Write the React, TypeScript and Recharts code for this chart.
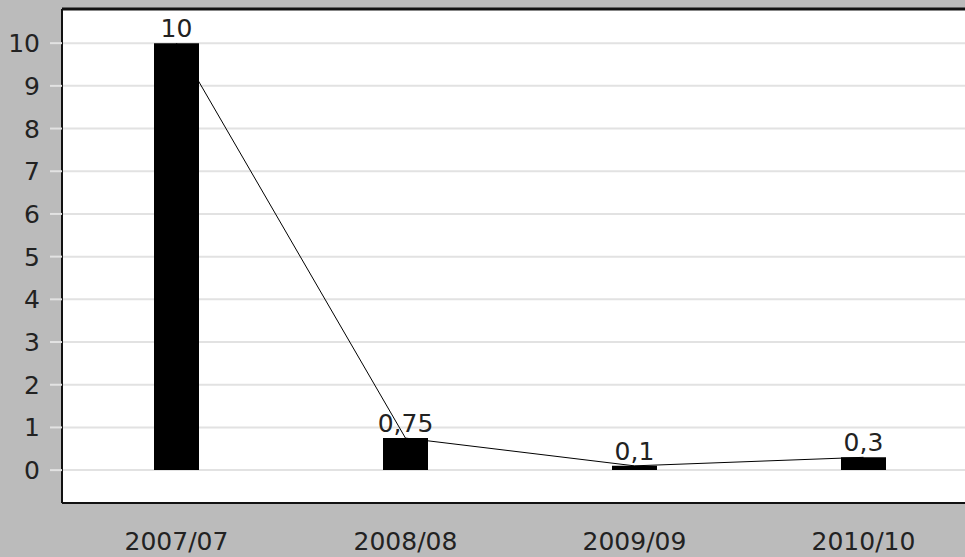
import React from 'react';
import { ComposedChart, Bar, Line, XAxis, YAxis, CartesianGrid, LabelList, ReferenceLine } from 'recharts';

const categories = ['2007/07', '2008/08', '2009/09', '2010/10'];
const values = [10, 0.75, 0.1, 0.3];
const yTicks = [0, 1, 2, 3, 4, 5, 6, 7, 8, 9, 10];
const Y_MIN = -0.77;
const Y_MAX = 10.8;

const data = categories.map((c, i) => ({ cat: c, v: values[i] }));

const FONT = 'DejaVu Sans, Verdana, sans-serif';

const XTick = (props: any) => {
  const { x, y, payload } = props;
  return (
    <text x={x} y={y} dy={47} textAnchor="middle" fontFamily={FONT} fontSize={25} fill="#222">
      {payload.value}
    </text>
  );
};

const YTick = (props: any) => {
  const { x, y, payload } = props;
  return (
    <text x={x} y={y} dy={9} textAnchor="end" fontFamily={FONT} fontSize={25} fill="#222">
      {payload.value}
    </text>
  );
};

const fmt = (v: any) => String(v).replace('.', ',');

export default function App() {
  return (
    <div style={{ position: 'absolute', left: 0, top: 0, width: 965, height: 557, overflow: 'hidden', background: '#bbbbbb' }}>
      <ComposedChart width={990} height={557} data={data} margin={{ top: 9, right: 12, bottom: 0, left: 0 }}>
        <CartesianGrid vertical={false} stroke="#e2e2e2" strokeWidth={2} fill="#ffffff" />
        <XAxis
          dataKey="cat"
          height={54}
          tickLine={false}
          tickSize={0}
          tickMargin={0}
          axisLine={{ stroke: '#111', strokeWidth: 2 }}
          tick={<XTick />}
          interval={0}
        />
        <YAxis
          width={62}
          domain={[Y_MIN, Y_MAX]}
          ticks={yTicks}
          allowDataOverflow
          tickSize={12}
          tickMargin={10}
          tickLine={{ stroke: '#e2e2e2', strokeWidth: 2 }}
          axisLine={{ stroke: '#111', strokeWidth: 2 }}
          tick={<YTick />}
        />
        <ReferenceLine y={Y_MAX} stroke="#111" strokeWidth={3} />
        <Line
          dataKey="v"
          stroke="#000"
          strokeWidth={1}
          dot={false}
          activeDot={false}
          isAnimationActive={false}
          zIndex={250}
        />
        <Bar dataKey="v" fill="#000" barSize={45} isAnimationActive={false}>
          <LabelList dataKey="v" position="top" offset={6} formatter={fmt} fontFamily={FONT} fontSize={25} fill="#222" />
        </Bar>
      </ComposedChart>
    </div>
  );
}
